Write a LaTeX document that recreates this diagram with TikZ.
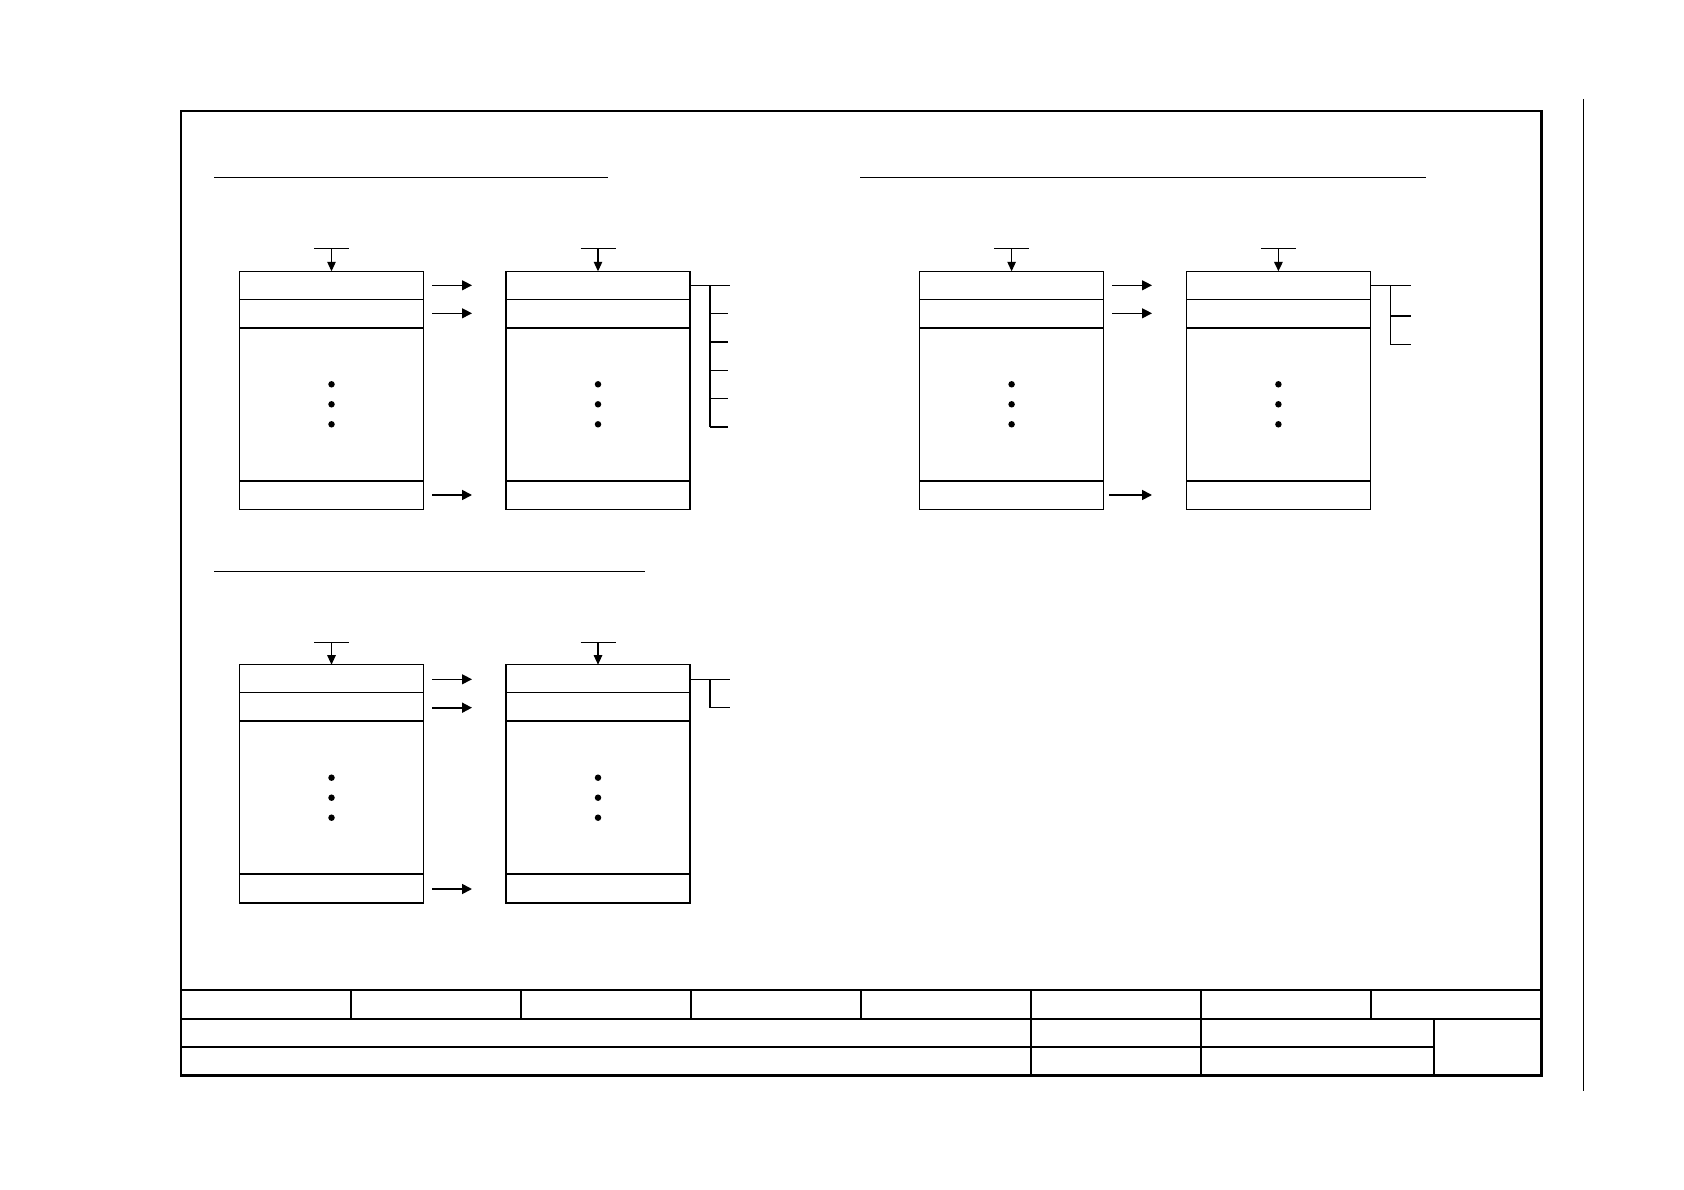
\documentclass[tikz,border=0pt]{standalone}
\usepackage{tikz}
\usetikzlibrary{
  arrows.meta,
  positioning,
  calc
}
\tikzset{
  regbox/.style={
    draw,
    line width=0.9pt,
    inner sep=0pt,
    outer sep=0pt,
    minimum width=36.8mm,
    minimum height=47.6mm,
    anchor=north west,
    path picture={
      \draw[line width=0.6pt] ($(path picture bounding box.north west)+(0,28)$) -- ($(path picture bounding box.north east)+(0,28)$);
      \draw[line width=1.1pt] ($(path picture bounding box.north west)+(0,56.5)$) -- ($(path picture bounding box.north east)+(0,56.5)$);
      \draw[line width=1.1pt] ($(path picture bounding box.north west)+(0,209.5)$) -- ($(path picture bounding box.north east)+(0,209.5)$);
      \foreach \dy in {113,133,153}
        \fill ($(path picture bounding box.north)+(0,\dy)$) circle (0.65mm);
    }
  },
  portline/.style={draw=black,line width=0.6pt},
  tickline/.style={draw=black,line width=0.8pt},
  headline/.style={draw=black,line width=0.6pt},
  feedarrow/.style={-{Triangle[length=1.9mm,width=1.7mm]},line width=0.6pt},
  moveline/.style={-{Triangle[length=2mm,width=2mm]},line width=0.6pt},
  movebold/.style={-{Triangle[length=2mm,width=2mm]},line width=1pt},
  frameline/.style={draw=black,line width=1.5pt},
  titleline/.style={draw=black,line width=1.2pt},
}

\begin{document}
\begin{tikzpicture}[x=0.2mm,y=-0.2mm]
  \useasboundingbox (0,0) rectangle (1684,1190);

  % sheet frame
  \draw[frameline] (181,111) rectangle (1541.5,1075.5);
  \draw[portline] (1583.5,99) -- (1583.5,1091);

  % title block
  \draw[titleline] (181,990) -- (1541.5,990);
  \draw[titleline] (181,1018.7) -- (1541.5,1018.7);
  \draw[titleline] (181,1047) -- (1434,1047);
  \foreach \x in {351,521,691,861,1031,1201,1371}
    \draw[titleline] (\x,990) -- (\x,1018.7);
  \foreach \x in {1031,1201,1434}
    \draw[titleline] (\x,1018.7) -- (\x,1075.5);

  % upper left panel
  \draw[headline] (214,177.3) -- (607.5,177.3);
  \begin{scope}[shift={(239.5,271.3)}]
    \node[regbox] (srcA) at (0,0) {};
    \node[regbox] (dstA) at (266.5,0) {};
    \coordinate (feedA1) at ($(srcA.north)+(0,-23)$);
    \coordinate (feedA2) at ($(dstA.north)+(0,-23)$);
    \draw[portline] ($(feedA1)+(-17.5,0)$) -- ($(feedA1)+(17.5,0)$);
    \draw[portline] ($(feedA2)+(-17.5,0)$) -- ($(feedA2)+(17.5,0)$);
    \draw[feedarrow] (feedA1) -- (srcA.north);
    \draw[feedarrow] (feedA2) -- (dstA.north);
    \coordinate (outA1) at ($(srcA.north east)+(8.5,14)$);
    \coordinate (outA2) at ($(srcA.north east)+(8.5,42)$);
    \coordinate (outA3) at ($(srcA.north east)+(8.5,223.7)$);
    \coordinate (inA1) at ($(dstA.north west)+(-34,14)$);
    \coordinate (inA2) at ($(dstA.north west)+(-34,42)$);
    \coordinate (inA3) at ($(dstA.north west)+(-34,223.7)$);
    \draw[moveline] (outA1) -- (inA1);
    \draw[moveline] (outA2) -- (inA2);
    \draw[movebold] (outA3) -- (inA3);
    % fan-out on the right
    \coordinate (tapA) at ($(dstA.north east)+(0,14)$);
    \draw[portline] (tapA) -- ++(40.3,0);
    \draw[portline] ($(tapA)+(20,0)$) -- ($(tapA)+(20,141.6)$);
    \foreach \ty in {28.3,56.6,85,113.3,141.6}
      \draw[tickline] ($(tapA)+(20,\ty)$) -- ++(18,0);
  \end{scope}

  % upper right panel
  \draw[headline] (860,177.3) -- (1426.4,177.3);
  \begin{scope}[shift={(919.6,271.3)}]
    \node[regbox] (srcB) at (0,0) {};
    \node[regbox] (dstB) at (266.8,0) {};
    \coordinate (feedB1) at ($(srcB.north)+(0,-23)$);
    \coordinate (feedB2) at ($(dstB.north)+(0,-23)$);
    \draw[portline] ($(feedB1)+(-17.5,0)$) -- ($(feedB1)+(17.5,0)$);
    \draw[portline] ($(feedB2)+(-17.5,0)$) -- ($(feedB2)+(17.5,0)$);
    \draw[feedarrow] (feedB1) -- (srcB.north);
    \draw[feedarrow,line width=1pt] (feedB2) -- (dstB.north);
    \coordinate (outB1) at ($(srcB.north east)+(8.5,14)$);
    \coordinate (outB2) at ($(srcB.north east)+(8.5,42)$);
    \coordinate (outB3) at ($(srcB.north east)+(5.5,223.7)$);
    \coordinate (inB1) at ($(dstB.north west)+(-34.4,14)$);
    \coordinate (inB2) at ($(dstB.north west)+(-34.4,42)$);
    \coordinate (inB3) at ($(dstB.north west)+(-34.4,223.7)$);
    \draw[moveline] (outB1) -- (inB1);
    \draw[moveline] (outB2) -- (inB2);
    \draw[movebold] (outB3) -- (inB3);
    % fan-out on the right
    \coordinate (tapB) at ($(dstB.north east)+(0,14)$);
    \draw[portline] (tapB) -- ++(40.6,0);
    \draw[portline] ($(tapB)+(20.3,0)$) -- ($(tapB)+(20.3,59.4)$);
    \draw[portline] ($(tapB)+(20.3,30.7)$) -- ++(20.3,0);
    \draw[tickline] ($(tapB)+(20.3,59.4)$) -- ++(20.3,0);
  \end{scope}

  % lower left panel
  \draw[headline] (214,571.3) -- (645,571.3);
  \begin{scope}[shift={(239.5,664.7)}]
    \node[regbox] (srcC) at (0,0) {};
    \node[regbox] (dstC) at (266.5,0) {};
    \coordinate (feedC1) at ($(srcC.north)+(0,-22.4)$);
    \coordinate (feedC2) at ($(dstC.north)+(0,-22.4)$);
    \draw[portline] ($(feedC1)+(-17.5,0)$) -- ($(feedC1)+(17.5,0)$);
    \draw[portline] ($(feedC2)+(-17.5,0)$) -- ($(feedC2)+(17.5,0)$);
    \draw[feedarrow] (feedC1) -- (srcC.north);
    \draw[feedarrow] (feedC2) -- (dstC.north);
    \coordinate (outC1) at ($(srcC.north east)+(8.5,14.6)$);
    \coordinate (outC2) at ($(srcC.north east)+(8.5,43)$);
    \coordinate (outC3) at ($(srcC.north east)+(8.5,224.3)$);
    \coordinate (inC1) at ($(dstC.north west)+(-34,14.6)$);
    \coordinate (inC2) at ($(dstC.north west)+(-34,43)$);
    \coordinate (inC3) at ($(dstC.north west)+(-34,224.3)$);
    \draw[moveline] (outC1) -- (inC1);
    \draw[movebold] (outC2) -- (inC2);
    \draw[movebold] (outC3) -- (inC3);
    % fan-out on the right
    \coordinate (tapC) at ($(dstC.north east)+(0,14.6)$);
    \draw[portline] (tapC) -- ++(40.3,0);
    \draw[tickline] ($(tapC)+(20,0)$) -- ($(tapC)+(20,28.2)$) -- ++(20.3,0);
  \end{scope}
\end{tikzpicture}
\end{document}
